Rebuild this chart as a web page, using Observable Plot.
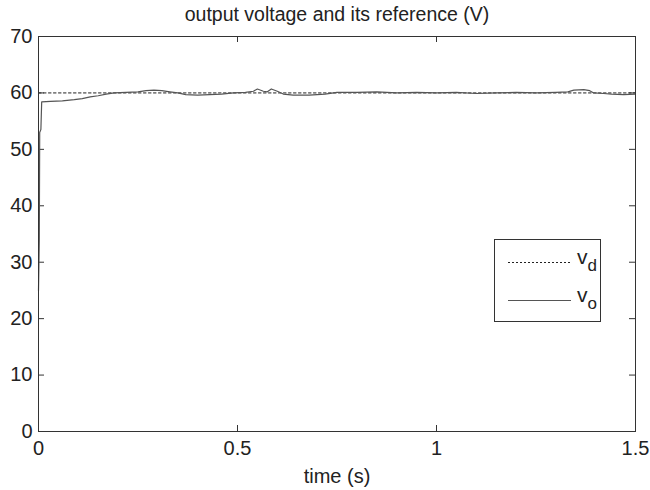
<!DOCTYPE html>
<html>
<head>
<meta charset="utf-8">
<script src="https://cdn.jsdelivr.net/npm/d3@7"></script>
<script src="https://cdn.jsdelivr.net/npm/@observablehq/plot@0.6"></script>
<style>
  html, body { margin: 0; padding: 0; background: #fff; }
  #wrap { position: relative; width: 650px; height: 490px; font-family: "Liberation Sans", Arial, sans-serif; color: #222; }
  #legend { position: absolute; left: 494px; top: 239px; width: 107px; height: 83px; border: 1px solid #333; background: #fff; box-sizing: border-box; }
  #legend svg { position: absolute; left: 0; top: 0; }
  .lab { position: absolute; font-size: 21px; line-height: 1; }
  .lab sub { font-size: 17px; vertical-align: -7px; }
</style>
</head>
<body>
<div id="wrap"></div>
<script>
// ---- data ----
const titleText = "output voltage and its reference (V)";
const xLabel = "time (s)";
const xTicks = [0, 0.5, 1, 1.5];
const yTicks = [0, 10, 20, 30, 40, 50, 60, 70];

const refTime = [0, 1.5];
const refVolt = [60, 60];

const outTime = [0, 0.002, 0.003, 0.006, 0.008, 0.03, 0.06, 0.09, 0.11, 0.13, 0.15, 0.17, 0.19, 0.22, 0.25, 0.27, 0.29, 0.31, 0.33, 0.35, 0.37, 0.40, 0.43, 0.46, 0.49, 0.52, 0.54, 0.55, 0.565, 0.575, 0.585, 0.60, 0.615, 0.64, 0.68, 0.72, 0.75, 0.80, 0.85, 0.90, 0.95, 1.0, 1.05, 1.10, 1.15, 1.20, 1.25, 1.30, 1.33, 1.345, 1.37, 1.385, 1.395, 1.42, 1.44, 1.47, 1.5];
const outVolt = [25, 34, 53, 53.5, 58.4, 58.5, 58.6, 58.8, 59.0, 59.3, 59.5, 59.8, 60.0, 60.1, 60.2, 60.4, 60.5, 60.4, 60.2, 60.0, 59.7, 59.6, 59.7, 59.8, 60.0, 60.1, 60.3, 60.7, 60.3, 60.2, 60.7, 60.3, 59.8, 59.6, 59.6, 59.8, 60.1, 60.1, 60.2, 60.0, 60.1, 60.0, 60.1, 59.9, 60.0, 60.1, 60.0, 60.1, 60.2, 60.5, 60.6, 60.4, 60.0, 59.9, 59.8, 59.7, 59.8];

const refData = refTime.map((t, i) => ({t, v: refVolt[i]}));
const outData = outTime.map((t, i) => ({t, v: outVolt[i]}));

const W = 650, H = 490, mL = 38, mR = 15, mT = 36, mB = 59;
const fw = W - mL - mR, fh = H - mT - mB, tl = 6;
const ink = "#333";
const fs = 20;

const chart = Plot.plot({
  width: W, height: H,
  marginLeft: mL, marginRight: mR, marginTop: mT, marginBottom: mB,
  style: {fontFamily: "'Liberation Sans', Arial, sans-serif", fontSize: fs + "px", color: "#222", background: "#fff"},
  x: {domain: [0, 1.5]},
  y: {domain: [0, 70]},
  marks: [
    Plot.axisX(xTicks, {tickSize: 0, tickPadding: 9, tickFormat: d => String(d), label: xLabel, labelAnchor: "center", labelOffset: 51, labelArrow: "none", fontSize: fs}),
    Plot.axisY(yTicks, {tickSize: 0, tickPadding: 6, label: null, fontSize: fs}),
    Plot.tickX(xTicks, {x: d => d, stroke: ink, insetTop: fh - tl}),
    Plot.tickX(xTicks, {x: d => d, stroke: ink, insetBottom: fh - tl}),
    Plot.tickY(yTicks, {y: d => d, stroke: ink, insetRight: fw - tl}),
    Plot.tickY(yTicks, {y: d => d, stroke: ink, insetLeft: fw - tl}),
    Plot.line(refData, {x: "t", y: "v", stroke: "#222", strokeWidth: 1, strokeDasharray: "2.5,2.5"}),
    Plot.line(outData, {x: "t", y: "v", stroke: "#555", strokeWidth: 1.2}),
    Plot.frame({stroke: ink}),
    Plot.text([titleText], {text: d => d, frameAnchor: "top", dy: -29, fontSize: 19.5, fill: "#222"})
  ]
});

const wrap = document.getElementById("wrap");
wrap.appendChild(chart);

const leg = document.createElement("div");
leg.id = "legend";
leg.innerHTML = `
<svg width="107" height="83">
  <line x1="13" x2="76" y1="22.5" y2="22.5" stroke="#222" stroke-width="1" stroke-dasharray="2,2"/>
  <line x1="13" x2="76" y1="60.5" y2="60.5" stroke="#555" stroke-width="1.2"/>
</svg>
<div class="lab" style="left:82px; top:6px;">v<sub>d</sub></div>
<div class="lab" style="left:82px; top:44px;">v<sub>o</sub></div>`;
wrap.appendChild(leg);
</script>
</body>
</html>
